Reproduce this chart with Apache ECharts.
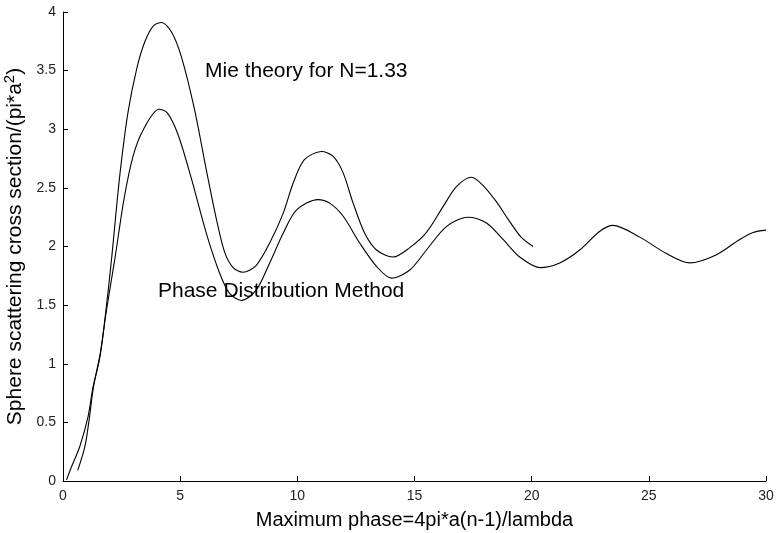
<!DOCTYPE html>
<html>
<head>
<meta charset="utf-8">
<script src="https://cdn.jsdelivr.net/npm/echarts@6/dist/echarts.min.js"></script>
<style>
  html, body { margin: 0; padding: 0; background: #fff; }
  #chart { width: 777px; height: 533px; }
</style>
</head>
<body>
<div id="chart"></div>
<script>
// Mie theory curve (computed up to a maximum phase of 20)
const mieTheory = [
  [0.15, 0.01], [0.36, 0.12], [0.71, 0.29], [1.07, 0.55], [1.28, 0.80],
  [1.57, 1.05], [1.80, 1.40], [2.07, 1.89], [2.42, 2.60], [2.77, 3.14],
  [3.15, 3.52], [3.50, 3.75], [3.85, 3.88], [4.20, 3.91], [4.63, 3.83],
  [5.05, 3.62], [5.60, 3.18], [6.12, 2.65], [6.55, 2.23], [6.90, 1.95],
  [7.26, 1.82], [7.68, 1.78], [8.25, 1.84], [8.82, 2.03], [9.39, 2.28],
  [9.82, 2.54], [10.30, 2.74], [11.03, 2.81], [11.52, 2.77], [11.95, 2.63],
  [12.38, 2.37], [12.88, 2.11], [13.38, 1.97], [14.08, 1.91], [14.80, 1.99],
  [15.51, 2.12], [16.22, 2.34], [16.79, 2.51], [17.43, 2.59], [17.93, 2.52],
  [18.50, 2.38], [19.07, 2.21], [19.55, 2.08], [20.06, 2.00]
];

// Phase distribution method curve (out to a maximum phase of 30)
const phaseDistribution = [
  [0.63, 0.09], [0.93, 0.29], [1.10, 0.50], [1.30, 0.80], [1.60, 1.10],
  [1.85, 1.45], [2.21, 1.89], [2.60, 2.40], [2.99, 2.77], [3.41, 2.99],
  [4.10, 3.17], [4.45, 3.14], [4.90, 2.96], [5.45, 2.60], [6.12, 2.11],
  [6.69, 1.77], [7.11, 1.60], [7.61, 1.54], [8.25, 1.63], [8.82, 1.86],
  [9.39, 2.11], [9.96, 2.31], [10.88, 2.40], [11.38, 2.37], [11.95, 2.26],
  [12.66, 2.03], [13.38, 1.83], [14.02, 1.73], [14.80, 1.80], [15.51, 1.97],
  [16.36, 2.17], [17.28, 2.25], [18.07, 2.20], [18.78, 2.06], [19.49, 1.91],
  [20.35, 1.82], [21.20, 1.86], [22.05, 1.97], [22.91, 2.13], [23.47, 2.18],
  [24.61, 2.08], [25.75, 1.94], [26.75, 1.86], [27.89, 1.93], [28.88, 2.06],
  [29.45, 2.12], [30.00, 2.14]
];

const xTicks = [0, 5, 10, 15, 20, 25, 30];
const yTicks = [0, 0.5, 1, 1.5, 2, 2.5, 3, 3.5, 4];

const chart = echarts.init(document.getElementById('chart'));
const font = 'Liberation Sans, Arial, sans-serif';

const axisCommon = {
  axisLine: { show: true, onZero: false, lineStyle: { color: '#000', width: 1 } },
  axisTick: { show: true, inside: true, length: 5, lineStyle: { color: '#000', width: 1 } },
  splitLine: { show: false },
  axisLabel: { color: '#222', fontFamily: font, fontSize: 14 }
};

chart.setOption({
  animation: false,
  backgroundColor: '#fff',
  grid: { left: 63, right: 11, top: 12, bottom: 52, containLabel: false, outerBoundsMode: 'none' },
  xAxis: Object.assign({
    type: 'value',
    min: xTicks[0], max: xTicks[xTicks.length - 1], interval: 5,
    name: 'Maximum phase=4pi*a(n-1)/lambda',
    nameLocation: 'middle', nameGap: 29,
    nameTextStyle: { color: '#000', fontFamily: font, fontSize: 20 }
  }, axisCommon, {
    axisLabel: Object.assign({}, axisCommon.axisLabel, { margin: 8 })
  }),
  yAxis: Object.assign({
    type: 'value',
    min: yTicks[0], max: yTicks[yTicks.length - 1], interval: 0.5,
    name: 'Sphere scattering cross section/(pi*a{sup|2})',
    nameLocation: 'middle', nameGap: 31,
    nameTextStyle: {
      color: '#000', fontFamily: font, fontSize: 21,
      rich: { sup: { fontSize: 15, verticalAlign: 'top', padding: [0, 0, 10, 0], color: '#000', fontFamily: font } }
    }
  }, axisCommon, {
    axisLabel: Object.assign({}, axisCommon.axisLabel, { margin: 7 })
  }),
  series: [
    {
      name: 'Mie theory for N=1.33',
      type: 'line', data: mieTheory, showSymbol: false, smooth: 0.3,
      lineStyle: { color: '#000', width: 1.1 }
    },
    {
      name: 'Phase Distribution Method',
      type: 'line', data: phaseDistribution, showSymbol: false, smooth: 0.3,
      lineStyle: { color: '#000', width: 1.1 }
    }
  ],
  graphic: [
    { type: 'text', left: 205, top: 61,
      style: { text: 'Mie theory for N=1.33', fill: '#000', font: '21px ' + font } },
    { type: 'text', left: 158, top: 281,
      style: { text: 'Phase Distribution Method', fill: '#000', font: '21px ' + font } }
  ]
});
</script>
</body>
</html>
